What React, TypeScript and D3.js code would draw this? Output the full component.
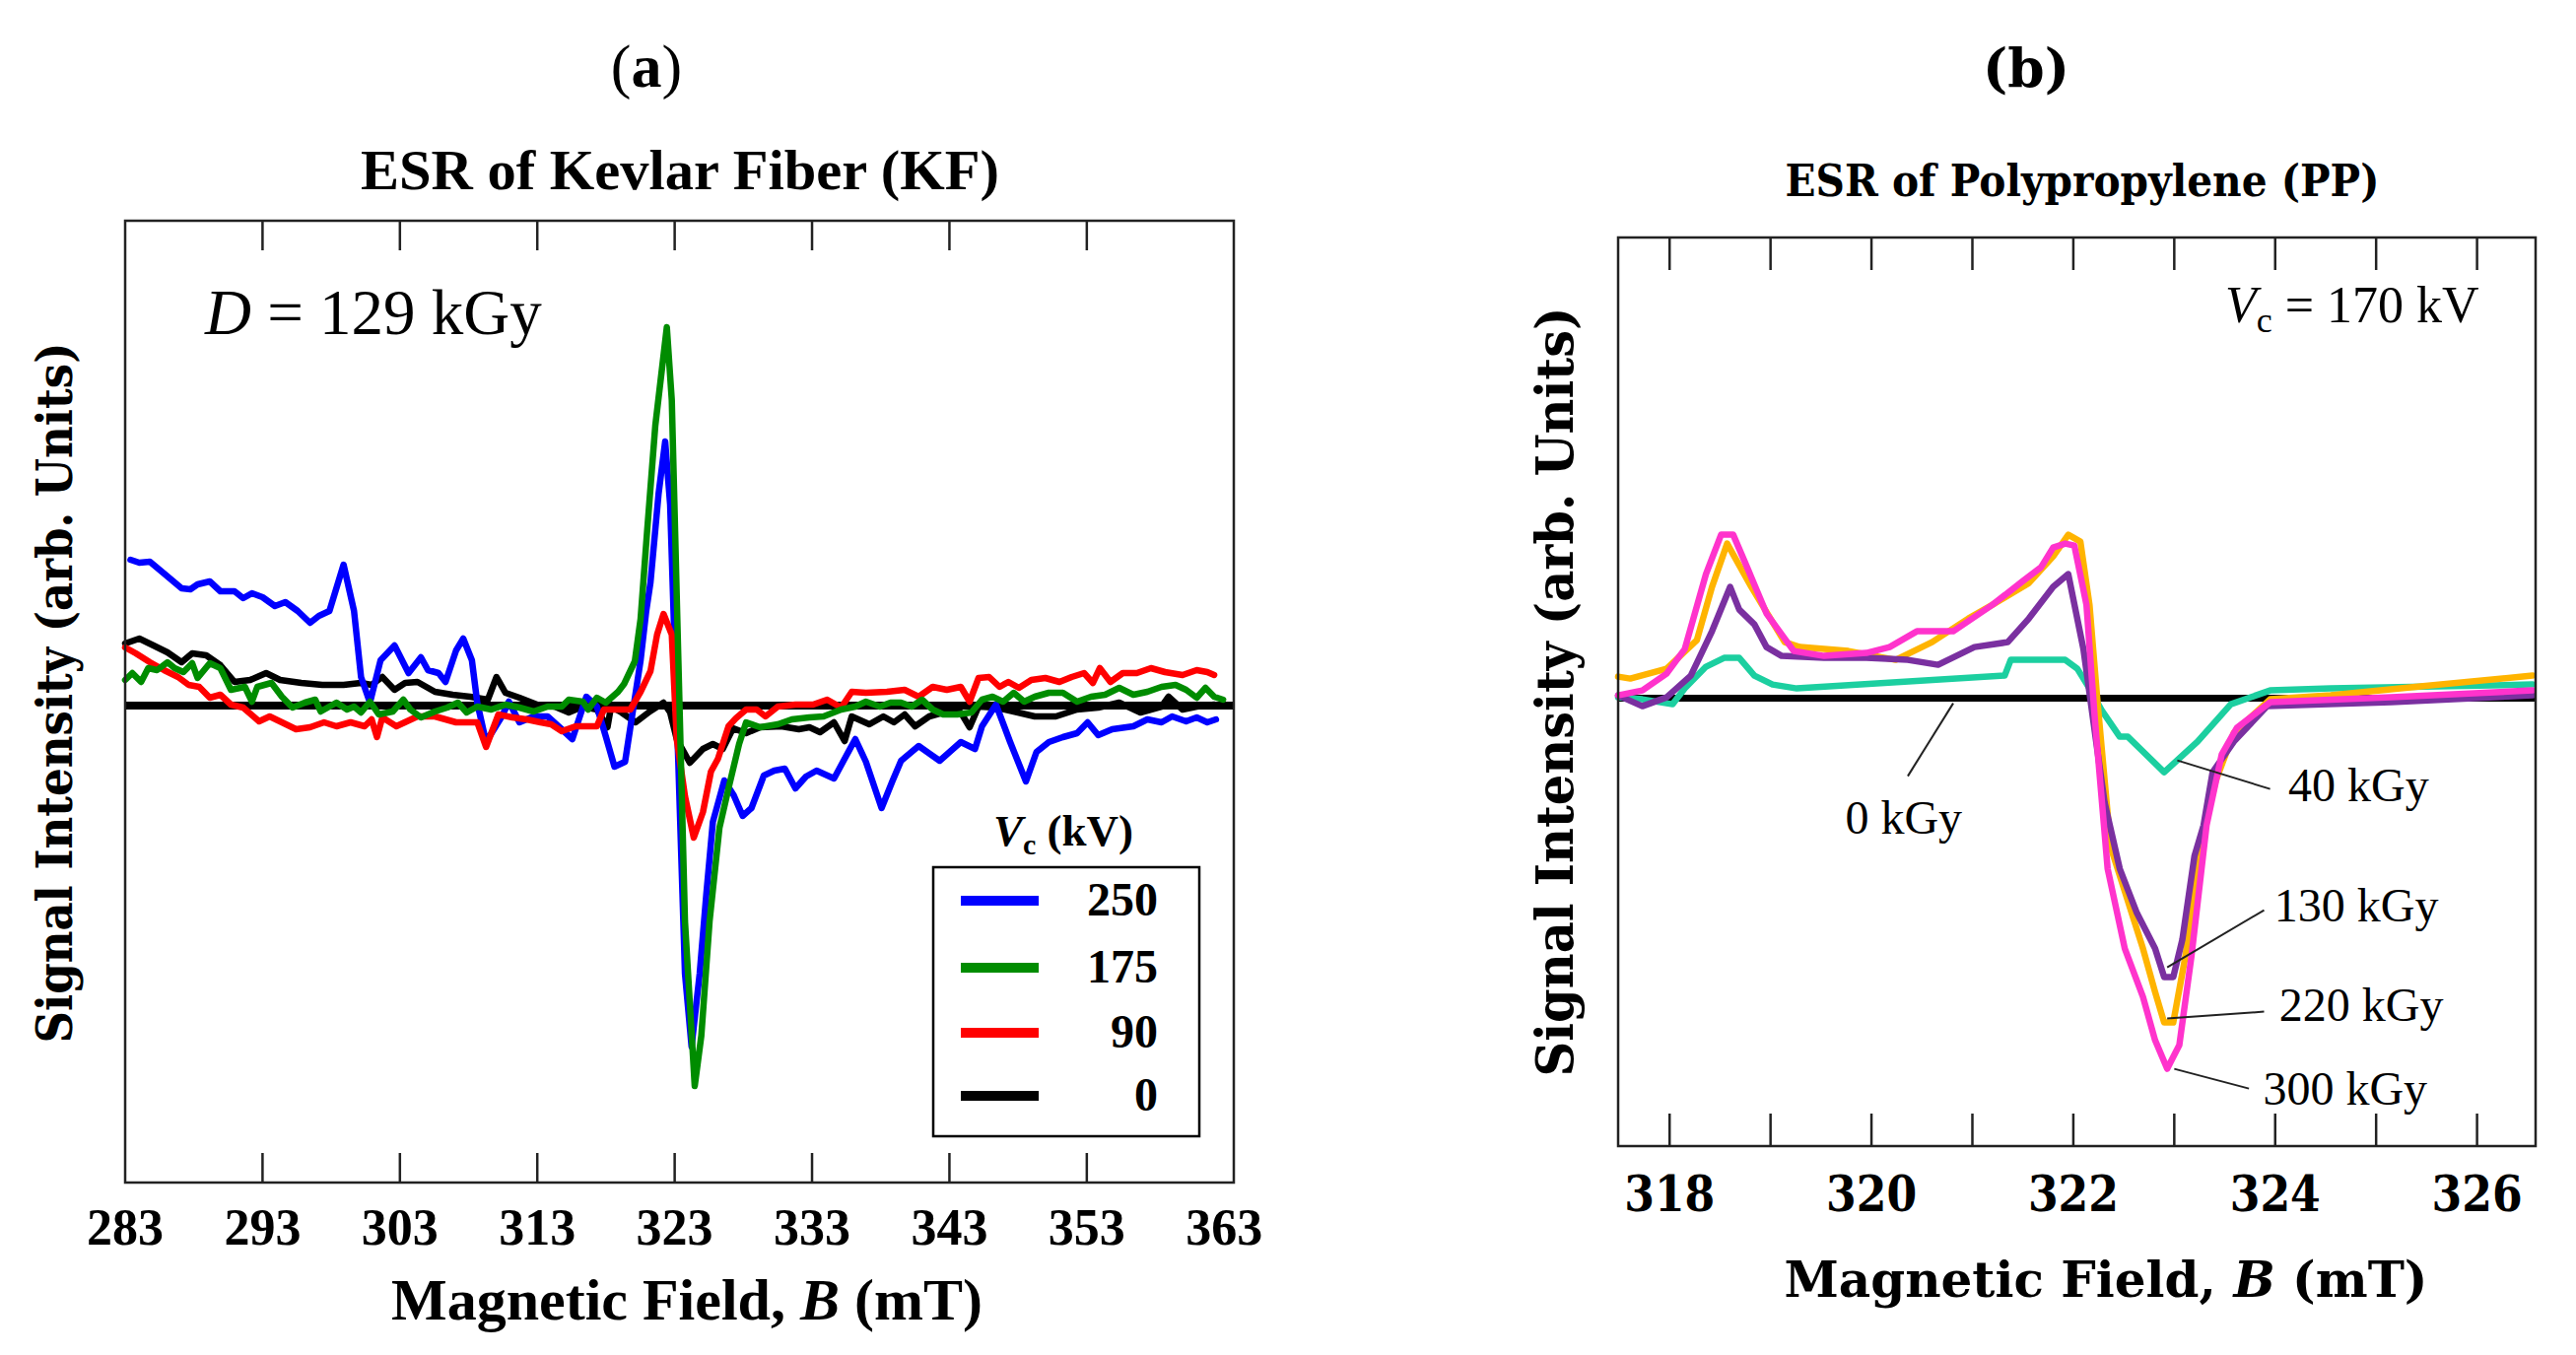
import React from 'react';
import * as d3 from 'd3';

type P = [number, number];

// ---------- Panel (a): ESR of Kevlar Fiber, B (mT) vs signal (arb.) ----------
const kfTicks = [283, 293, 303, 313, 323, 333, 343, 353, 363];

const kf250: P[] = [
  [283.39,1.48],[284.03,1.45],[284.8,1.46],[285.83,1.34],[287.11,1.19],[287.75,1.18],[288.27,1.23],[289.16,1.26],
  [289.93,1.16],[290.96,1.16],[291.59,1.09],[292.23,1.14],[293.0,1.1],[293.9,1.01],[294.66,1.05],[295.56,0.96],
  [296.46,0.84],[297.1,0.91],[297.87,0.96],[298.9,1.43],[299.66,0.96],[300.17,0.29],[300.82,0.03],[301.59,0.46],
  [302.61,0.61],[303.63,0.33],[304.53,0.49],[305.04,0.36],[305.81,0.33],[306.32,0.24],[307.09,0.56],[307.61,0.68],
  [308.24,0.46],[308.63,0.03],[309.27,-0.37],[310.42,-0.11],[310.93,0.04],[311.7,-0.17],[312.73,-0.11],[313.75,-0.11],
  [314.78,-0.24],[315.55,-0.34],[316.57,0.09],[317.34,-0.01],[317.98,-0.31],[318.62,-0.62],[319.39,-0.57],[320.16,0.13],
  [320.52,0.46],[320.93,0.96],[321.24,1.25],[321.83,2.15],[322.31,2.68],[322.67,2.04],[323.15,-0.07],[323.75,-2.72],
  [324.23,-3.46],[324.82,-2.72],[325.3,-1.92],[325.78,-1.18],[326.61,-0.76],[327.3,-0.91],[327.95,-1.12],[328.59,-1.04],
  [329.49,-0.71],[330.25,-0.66],[331.02,-0.64],[331.79,-0.84],[332.56,-0.72],[333.33,-0.66],[334.6,-0.74],[335.37,-0.54],
  [336.15,-0.34],[336.92,-0.57],[338.06,-1.04],[338.84,-0.77],[339.48,-0.56],[340.76,-0.41],[342.29,-0.56],[343.83,-0.37],
  [344.86,-0.44],[345.37,-0.21],[346.39,0.01],[347.42,-0.37],[348.57,-0.77],[349.34,-0.47],[350.24,-0.37],[351.26,-0.32],
  [352.29,-0.28],[353.06,-0.17],[353.83,-0.3],[354.85,-0.24],[356.39,-0.21],[357.41,-0.14],[358.44,-0.17],[359.21,-0.11],
  [360.23,-0.16],[361.0,-0.12],[361.77,-0.17],[362.4,-0.14],
];

const kf175: P[] = [
  [283.0,0.26],[283.52,0.33],[284.16,0.24],[284.68,0.38],[285.32,0.36],[286.08,0.44],[286.6,0.38],[287.24,0.34],
  [287.88,0.43],[288.27,0.28],[289.16,0.43],[289.93,0.38],[290.7,0.16],[291.72,0.19],[292.23,0.04],[292.62,0.19],
  [293.65,0.23],[294.41,0.09],[295.18,-0.02],[296.08,0.03],[296.84,0.06],[297.23,-0.06],[298.38,0.03],[299.15,-0.04],
  [299.66,-0.01],[300.17,-0.07],[300.82,0.04],[301.46,-0.09],[302.48,-0.06],[303.25,0.06],[303.76,-0.04],[304.53,-0.12],
  [305.55,-0.06],[306.45,-0.02],[307.22,0.03],[307.86,-0.07],[308.63,-0.01],[309.65,-0.04],[310.68,0.01],[311.7,-0.02],
  [312.73,-0.06],[313.75,-0.01],[314.78,-0.01],[315.29,0.06],[316.32,0.04],[316.7,-0.04],[317.34,0.08],[317.98,0.03],
  [318.88,0.14],[319.32,0.22],[320.1,0.45],[320.52,0.88],[321.0,1.78],[321.59,2.84],[322.43,3.84],[322.79,3.1],
  [323.27,0.46],[323.75,-2.19],[324.46,-3.86],[324.94,-3.35],[325.54,-2.19],[326.26,-1.24],[326.97,-0.81],[327.69,-0.39],
  [328.2,-0.17],[329.22,-0.22],[330.51,-0.19],[331.53,-0.14],[332.81,-0.12],[333.84,-0.11],[335.12,-0.04],[336.15,-0.01],
  [336.92,0.04],[337.94,-0.01],[338.71,0.03],[339.48,0.03],[340.25,-0.01],[341.01,0.06],[341.78,-0.04],[342.55,-0.09],
  [343.57,-0.09],[344.6,-0.07],[345.37,0.06],[346.14,0.09],[346.91,0.04],[347.68,0.13],[348.44,0.04],[349.21,0.09],
  [350.24,0.13],[351.26,0.13],[352.29,0.04],[353.31,0.09],[354.33,0.11],[355.36,0.18],[356.39,0.11],[357.41,0.14],
  [358.44,0.19],[359.46,0.21],[360.23,0.16],[361.0,0.08],[361.64,0.18],[362.27,0.09],[362.92,0.06],
];

const kf90: P[] = [
  [283.0,0.59],[283.78,0.53],[284.8,0.44],[285.83,0.36],[286.85,0.29],[287.62,0.21],[288.39,0.19],[289.16,0.08],
  [289.93,0.11],[290.7,0.01],[291.59,-0.02],[292.75,-0.16],[293.52,-0.11],[294.41,-0.17],[295.44,-0.24],[296.46,-0.22],
  [297.48,-0.17],[298.38,-0.21],[299.41,-0.17],[300.43,-0.21],[300.94,-0.14],[301.33,-0.32],[301.72,-0.12],[302.74,-0.21],
  [304.28,-0.11],[305.55,-0.11],[307.09,-0.17],[308.63,-0.17],[309.27,-0.42],[310.17,-0.09],[311.19,-0.12],[312.22,-0.14],
  [313.24,-0.17],[314.01,-0.19],[314.78,-0.26],[315.8,-0.21],[317.34,-0.21],[317.85,-0.04],[319.77,-0.04],[320.52,0.14],
  [321.24,0.35],[321.72,0.72],[322.19,0.93],[322.79,0.72],[323.15,-0.34],[323.75,-0.92],[324.39,-1.34],[325.06,-1.08],
  [325.64,-0.67],[326.15,-0.54],[326.92,-0.21],[327.45,-0.13],[328.2,-0.04],[328.97,-0.04],[329.61,-0.11],[330.51,-0.01],
  [331.79,0.01],[333.07,0.01],[334.1,0.06],[335.12,-0.02],[335.89,0.14],[336.92,0.13],[338.45,0.14],[339.74,0.16],
  [340.76,0.09],[341.78,0.19],[342.81,0.16],[343.83,0.19],[344.47,0.04],[345.12,0.28],[345.89,0.29],[346.65,0.19],
  [347.29,0.24],[348.06,0.18],[348.96,0.26],[349.98,0.28],[351.01,0.24],[351.9,0.29],[352.8,0.33],[353.44,0.23],
  [353.95,0.38],[354.72,0.24],[355.62,0.33],[356.64,0.33],[357.67,0.38],[358.69,0.34],[359.97,0.31],[361.0,0.36],
  [361.77,0.34],[362.27,0.31],
];

const kf0: P[] = [
  [283.0,0.63],[284.03,0.68],[285.06,0.61],[286.08,0.54],[287.11,0.44],[287.88,0.53],[288.9,0.51],[289.93,0.41],
  [290.96,0.24],[292.1,0.26],[293.26,0.33],[294.28,0.26],[295.82,0.23],[297.35,0.21],[298.9,0.21],[300.17,0.23],
  [300.94,0.21],[301.72,0.29],[302.61,0.16],[303.38,0.23],[304.28,0.24],[305.55,0.14],[306.84,0.11],[308.11,0.09],
  [309.4,0.06],[310.03,0.29],[310.68,0.13],[311.7,0.08],[312.98,0.01],[314.27,-0.01],[315.29,-0.07],[316.32,-0.01],
  [317.34,-0.04],[318.11,-0.22],[318.37,-0.01],[319.13,-0.07],[320.16,-0.17],[321.19,-0.06],[322.19,0.03],[322.67,-0.07],
  [323.15,-0.34],[324.1,-0.58],[325.06,-0.44],[325.78,-0.39],[326.5,-0.44],[327.25,-0.23],[328.2,-0.28],[329.22,-0.22],
  [330.76,-0.21],[332.04,-0.24],[332.81,-0.22],[333.58,-0.27],[334.6,-0.17],[335.37,-0.36],[335.89,-0.11],[337.17,-0.19],
  [338.19,-0.11],[338.96,-0.17],[339.74,-0.09],[340.5,-0.21],[341.53,-0.11],[342.55,-0.07],[343.83,-0.07],[344.47,-0.22],
  [345.12,-0.01],[346.39,-0.02],[347.68,-0.06],[349.21,-0.11],[350.75,-0.11],[352.29,-0.04],[353.83,-0.02],[355.36,0.03],
  [356.9,-0.07],[358.44,-0.01],[358.95,0.09],[359.97,-0.04],[361.0,-0.01],[362.27,0.01],
];

const kfLegendLabels = ['250', '175', '90', '0'];
const kfColors = ['#0000ff', '#008c00', '#ff0000', '#000000'];

// ---------- Panel (b): ESR of Polypropylene ----------
const ppTicks = [318, 319, 320, 321, 322, 323, 324, 325, 326];
const ppTickLabels = [318, 320, 322, 324, 326];

const pp0: P[] = [[317.49, 0], [326.58, 0]];

const pp40: P[] = [
  [317.49,0.01],[317.73,-0.01],[318.03,-0.06],[318.15,0.1],[318.36,0.32],[318.54,0.41],[318.69,0.41],[318.84,0.23],
  [319.02,0.14],[319.26,0.1],[321.32,0.23],[321.38,0.39],[321.92,0.39],[322.04,0.3],[322.16,0.1],[322.28,-0.12],
  [322.46,-0.39],[322.54,-0.39],[322.9,-0.75],[323.23,-0.44],[323.56,-0.06],[323.95,0.08],[324.55,0.1],[326.55,0.14],
];

const pp130: P[] = [
  [317.49,0.03],[317.73,-0.08],[317.97,0.01],[318.21,0.23],[318.42,0.68],[318.6,1.13],[318.69,0.9],[318.84,0.75],
  [318.96,0.52],[319.11,0.43],[319.53,0.41],[319.95,0.41],[320.36,0.39],[320.66,0.34],[321.02,0.52],[321.35,0.57],
  [321.56,0.81],[321.8,1.13],[321.95,1.26],[322.1,0.5],[322.19,-0.17],[322.31,-1.06],[322.46,-1.73],[322.63,-2.18],
  [322.81,-2.54],[322.9,-2.83],[322.99,-2.83],[323.08,-2.45],[323.2,-1.6],[323.29,-1.29],[323.38,-0.75],[323.59,-0.44],
  [323.92,-0.08],[325.15,-0.04],[326.55,0.03],
];

const pp220: P[] = [
  [317.49,0.22],[317.61,0.2],[317.97,0.3],[318.27,0.59],[318.42,1.13],[318.57,1.57],[318.81,1.13],[319.14,0.57],
  [319.29,0.52],[319.77,0.48],[320.24,0.39],[320.6,0.57],[320.96,0.81],[321.2,0.95],[321.56,1.17],[321.8,1.44],
  [321.95,1.66],[322.07,1.59],[322.16,0.95],[322.24,-0.04],[322.37,-1.51],[322.51,-1.96],[322.69,-2.54],[322.81,-2.98],
  [322.9,-3.29],[322.99,-3.29],[323.11,-2.62],[323.26,-1.51],[323.41,-0.84],[323.59,-0.35],[323.95,-0.01],[324.55,0.03],
  [325.44,0.12],[326.55,0.23],
];

const pp300: P[] = [
  [317.49,0.03],[317.73,0.08],[317.97,0.25],[318.15,0.5],[318.36,1.26],[318.51,1.66],[318.63,1.66],[318.78,1.3],
  [318.96,0.86],[319.23,0.48],[319.53,0.43],[319.95,0.46],[320.18,0.52],[320.45,0.68],[320.81,0.68],[321.2,0.95],
  [321.5,1.19],[321.68,1.33],[321.8,1.53],[321.92,1.57],[322.01,1.55],[322.13,0.95],[322.21,-0.17],[322.34,-1.73],
  [322.51,-2.54],[322.69,-3.03],[322.81,-3.47],[322.93,-3.76],[323.05,-3.52],[323.17,-2.62],[323.32,-1.29],[323.47,-0.57],
  [323.62,-0.3],[323.95,-0.04],[325.15,0.01],[326.55,0.08],
];

const ppColors = { d0: '#000000', d40: '#1ccfa0', d130: '#7a30a0', d220: '#ffb400', d300: '#ff33cc' };

const ppNotes: { text: string; at: P; from: P; to: P }[] = [
  { text: '0 kGy', at: [319.74, -1.37], from: [320.36, -0.79], to: [320.81, -0.05] },
  { text: '40 kGy', at: [324.13, -1.04], from: [323.95, -0.92], to: [323.03, -0.63] },
  { text: '130 kGy', at: [323.99, -2.26], from: [323.89, -2.15], to: [322.93, -2.73] },
  { text: '220 kGy', at: [324.04, -3.27], from: [323.89, -3.18], to: [322.93, -3.25] },
  { text: '300 kGy', at: [323.88, -4.12], from: [323.74, -3.96], to: [323.0, -3.76] },
];

const TIMES = "'Liberation Serif', 'Times New Roman', serif";
const CENT = "'DejaVu Serif', serif";

export default function App() {
  // Panel (a) scales
  const axL = 127, axR = 1252, ayT = 224, ayB = 1200;
  const xa = d3.scaleLinear().domain([283, 363.7]).range([axL, axR]);
  const ya = d3.scaleLinear().domain([-4.84, 4.94]).range([1200, 222]);
  const lineA = d3.line<P>().x(d => xa(d[0])).y(d => ya(d[1]));

  // Panel (b) scales
  const bxL = 1642, bxR = 2573, byT = 241, byB = 1163;
  const xb = d3.scaleLinear().domain([317.49, 326.58]).range([bxL, bxR]);
  const yb = d3.scaleLinear().domain([-4.544, 4.676]).range([byB, byT]);
  const lineB = d3.line<P>().x(d => xb(d[0])).y(d => yb(d[1]));

  const kfOrder: { data: P[]; color: string }[] = [
    { data: kf0, color: kfColors[3] },
    { data: kf250, color: kfColors[0] },
    { data: kf90, color: kfColors[2] },
    { data: kf175, color: kfColors[1] },
  ];
  const ppOrder: { data: P[]; color: string }[] = [
    { data: pp40, color: ppColors.d40 },
    { data: pp220, color: ppColors.d220 },
    { data: pp130, color: ppColors.d130 },
    { data: pp300, color: ppColors.d300 },
  ];

  const legendY = [914, 982, 1048, 1112];

  return (
    <svg width={2614} height={1375} style={{ position: 'absolute', left: 0, top: 0, background: '#fff' }}>
      <rect x={0} y={0} width={2614} height={1375} fill="#fff" />

      {/* ================= Panel (a) ================= */}
      <text x={656} y={88} textAnchor="middle" fontFamily={TIMES} fontSize={62}>
        (<tspan fontWeight="bold">a</tspan>)
      </text>
      <text x={690} y={192} textAnchor="middle" fontFamily={TIMES} fontSize={58} fontWeight="bold"
        textLength={648} lengthAdjust="spacingAndGlyphs">ESR of Kevlar Fiber (KF)</text>

      {/* zero baseline */}
      <line x1={axL} x2={axR} y1={ya(0)} y2={ya(0)} stroke="#000" strokeWidth={8} />
      {kfOrder.map((s, i) => (
        <path key={i} d={lineA(s.data) || ''} fill="none" stroke={s.color} strokeWidth={6.5}
          strokeLinejoin="round" strokeLinecap="round" />
      ))}

      <rect x={axL} y={ayT} width={axR - axL} height={ayB - ayT} fill="none" stroke="#222" strokeWidth={2.5} />
      {kfTicks.slice(1, -1).map(t => (
        <g key={t}>
          <line x1={xa(t)} x2={xa(t)} y1={ayT} y2={ayT + 30} stroke="#222" strokeWidth={2.5} />
          <line x1={xa(t)} x2={xa(t)} y1={ayB} y2={ayB - 30} stroke="#222" strokeWidth={2.5} />
        </g>
      ))}
      {kfTicks.map(t => (
        <text key={t} x={xa(t)} y={1263} textAnchor="middle" fontFamily={TIMES} fontSize={52} fontWeight="bold">{t}</text>
      ))}
      <text x={697} y={1339} textAnchor="middle" fontFamily={TIMES} fontSize={60} fontWeight="bold">
        Magnetic Field, <tspan fontStyle="italic">B</tspan> (mT)
      </text>
      <text transform="translate(73,703) rotate(-90)" textAnchor="middle" fontFamily={CENT} fontSize={50}
        fontWeight="bold" textLength={711} lengthAdjust="spacingAndGlyphs">Signal Intensity (arb. Units)</text>

      <text x={208} y={339} fontFamily={TIMES} fontSize={65}>
        <tspan fontStyle="italic">D</tspan> = 129 kGy
      </text>

      {/* legend */}
      <text x={1008} y={858} fontFamily={TIMES} fontSize={45} fontWeight="bold">
        <tspan fontStyle="italic">V</tspan><tspan fontSize={30} dy={9}>c</tspan><tspan dy={-9}> (kV)</tspan>
      </text>
      <rect x={947} y={880} width={270} height={273} fill="#fff" stroke="#000" strokeWidth={2.5} />
      {kfLegendLabels.map((lab, i) => (
        <g key={lab}>
          <line x1={975} x2={1054} y1={legendY[i]} y2={legendY[i]} stroke={kfColors[i]} strokeWidth={10} />
          <text x={1175} y={legendY[i] + 15} textAnchor="end" fontFamily={TIMES} fontSize={48} fontWeight="bold">{lab}</text>
        </g>
      ))}

      {/* ================= Panel (b) ================= */}
      <text x={2056} y={88} textAnchor="middle" fontFamily={CENT} fontSize={54} fontWeight="bold"
        textLength={88} lengthAdjust="spacingAndGlyphs">(b)</text>
      <text x={2113} y={199} textAnchor="middle" fontFamily={CENT} fontSize={44} fontWeight="bold"
        textLength={603} lengthAdjust="spacingAndGlyphs">ESR of Polypropylene (PP)</text>

      <path d={lineB(pp0) || ''} fill="none" stroke={ppColors.d0} strokeWidth={7} />
      {ppOrder.map((s, i) => (
        <path key={i} d={lineB(s.data) || ''} fill="none" stroke={s.color} strokeWidth={6.5}
          strokeLinejoin="round" strokeLinecap="round" />
      ))}

      <rect x={bxL} y={byT} width={bxR - bxL} height={byB - byT} fill="none" stroke="#222" strokeWidth={2.5} />
      {ppTicks.map(t => (
        <g key={t}>
          <line x1={xb(t)} x2={xb(t)} y1={byT} y2={byT + 33} stroke="#222" strokeWidth={2.5} />
          <line x1={xb(t)} x2={xb(t)} y1={byB} y2={byB - 33} stroke="#222" strokeWidth={2.5} />
        </g>
      ))}
      {ppTickLabels.map(t => (
        <text key={t} x={xb(t)} y={1229} textAnchor="middle" fontFamily={CENT} fontSize={50} fontWeight="bold"
          textLength={92} lengthAdjust="spacingAndGlyphs">{t}</text>
      ))}
      <text x={2137} y={1316} textAnchor="middle" fontFamily={CENT} fontSize={50} fontWeight="bold">
        Magnetic Field, <tspan fontStyle="italic">B</tspan> (mT)
      </text>
      <text transform="translate(1596,702) rotate(-90)" textAnchor="middle" fontFamily={CENT} fontSize={52}
        fontWeight="bold" textLength={781} lengthAdjust="spacingAndGlyphs">Signal Intensity (arb. Units)</text>

      <text x={2258} y={327} fontFamily={TIMES} fontSize={52}>
        <tspan fontStyle="italic">V</tspan><tspan fontSize={36} dy={10}>c</tspan><tspan dy={-10}> = 170 kV</tspan>
      </text>

      {ppNotes.map(n => (
        <g key={n.text}>
          <line x1={xb(n.from[0])} y1={yb(n.from[1])} x2={xb(n.to[0])} y2={yb(n.to[1])} stroke="#222" strokeWidth={2} />
          <text x={xb(n.at[0])} y={yb(n.at[1])} fontFamily={TIMES} fontSize={48}>{n.text}</text>
        </g>
      ))}
    </svg>
  );
}
